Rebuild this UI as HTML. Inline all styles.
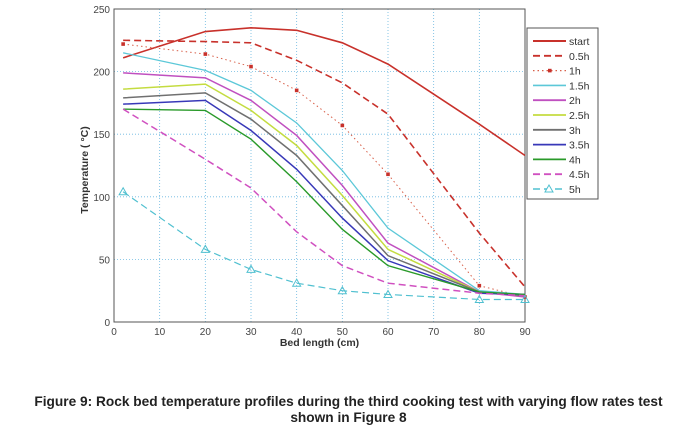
<!DOCTYPE html>
<html><head><meta charset="utf-8"><style>
body{margin:0;background:#fff;width:697px;height:430px;overflow:hidden;font-family:"Liberation Sans",Arial,sans-serif}
svg text{font-family:"Liberation Sans",Arial,sans-serif}
.cap{position:absolute;left:0;width:697px;text-align:center;font-weight:bold;font-size:13.7px;color:#222}
</style></head><body>
<svg id="chart" width="697" height="430" style="position:absolute;left:0;top:0"></svg>
<div class="cap" style="top:394px;line-height:16px">Figure 9: Rock bed temperature profiles during the third cooking test with varying flow rates test<br>shown in Figure 8</div>
<script>
const xs=[2,20,30,40,50,60,80,90];
const names=["start","0.5h","1h","1.5h","2h","2.5h","3h","3.5h","4h","4.5h","5h"];
const sStart=[211,232,235,233,223,206,158,133];
const s05=[225,224,223,209,191,166,71,28];
const s1=[222,214,204,185,157,118,29,20];
const s15=[215,201,185,159,121,75,25,22];
const s2=[199,195,177,149,109,63,24,20];
const s25=[186,190,169,141,101,58,24,21];
const s3=[179,183,162,133,93,53,24,21];
const s35=[174,177,153,122,83,49,23,22];
const s4=[170,169,146,112,74,45,24,22];
const s45=[170,130,107,72,45,31,23,21];
const s5=[104,58,42,31,25,22,18,18];
const xTicks=[0,10,20,30,40,50,60,70,80,90];
const yTicks=[0,50,100,150,200,250];
const series=[sStart,s05,s1,s15,s2,s25,s3,s35,s4,s45,s5];
const colors=["#c8312b","#c8312b","#d8604a","#5cc8d8","#c050c0","#c4dc40","#707070","#3838b8","#2a9a2a","#d050c0","#50c0d0"];
const dashes=["","7,4","1.5,3","","","","","","","7,4","7,4"];
const widths=[1.6,1.6,1,1.3,1.5,1.5,1.5,1.5,1.4,1.5,1.2];
const L=114,R=525,T=9,B=322;
const X=v=>L+(v-0)/90*(R-L), Y=v=>B-v/250*(B-T);
const svg=document.getElementById('chart'),NS="http://www.w3.org/2000/svg";
function mk(t,a,p){const e=document.createElementNS(NS,t);for(const k in a)e.setAttribute(k,a[k]);(p||svg).appendChild(e);return e;}
xTicks.forEach(v=>{const l=mk('line',{x1:X(v),x2:X(v),y1:T,y2:B,stroke:'#6ab8e0','stroke-dasharray':'1,2','stroke-width':0.8});

const t=mk('text',{x:X(v),y:B+13,'text-anchor':'middle','font-size':10,fill:'#444'});t.textContent=v;
});
yTicks.forEach(v=>{const l=mk('line',{x1:L,x2:R,y1:Y(v),y2:Y(v),stroke:'#6ab8e0','stroke-dasharray':'1,2','stroke-width':0.8});

const t=mk('text',{x:L-4,y:Y(v)+4,'text-anchor':'end','font-size':10,fill:'#444'});t.textContent=v;
});
const fr=mk('rect',{x:L,y:T,width:R-L,height:B-T,fill:'none',stroke:'#555','stroke-width':1});

series.forEach((s,i)=>{const p=mk('polyline',{points:s.map((v,j)=>X(xs[j])+','+Y(v)).join(' '),fill:'none',stroke:colors[i],'stroke-width':widths[i],'stroke-dasharray':dashes[i]});

if(i===2)s.forEach((v,j)=>{const m=mk('rect',{x:X(xs[j])-1.8,y:Y(v)-1.8,width:3.6,height:3.6,fill:'#c8312b'});});
if(i===10)s.forEach((v,j)=>{const m=mk('polygon',{points:`${X(xs[j])},${Y(v)-4} ${X(xs[j])-4},${Y(v)+3} ${X(xs[j])+4},${Y(v)+3}`,fill:'none',stroke:colors[i],'stroke-width':1});});});
const xl=mk('text',{x:(L+R)/2,y:346,'text-anchor':'middle','font-size':10.5,'font-weight':'bold',fill:'#333'});xl.textContent='Bed length (cm)';

const yl=mk('text',{x:0,y:0,transform:'translate(88,170) rotate(-90)','text-anchor':'middle','font-size':10.5,'font-weight':'bold',fill:'#333'});yl.textContent='Temperature ( °C)';

const lg=mk('g',{});
mk('rect',{x:527,y:28,width:71,height:171,fill:'#fff',stroke:'#555','stroke-width':1},lg);
names.forEach((n,i)=>{const y=41+i*14.8;const e=mk('g',{},lg);
mk('line',{x1:533,x2:566,y1:y,y2:y,stroke:colors[i],'stroke-width':widths[i]+0.3,'stroke-dasharray':dashes[i]},e);
if(i===2)mk('rect',{x:548,y:y-1.8,width:3.6,height:3.6,fill:'#c8312b'},e);
if(i===10)mk('polygon',{points:`549,${y-4} 545,${y+3} 553,${y+3}`,fill:'#fff',stroke:colors[i]},e);
const t=mk('text',{x:569,y:y+4,'font-size':10.5,fill:'#333'},e);t.textContent=n;});
</script>
</body></html>
